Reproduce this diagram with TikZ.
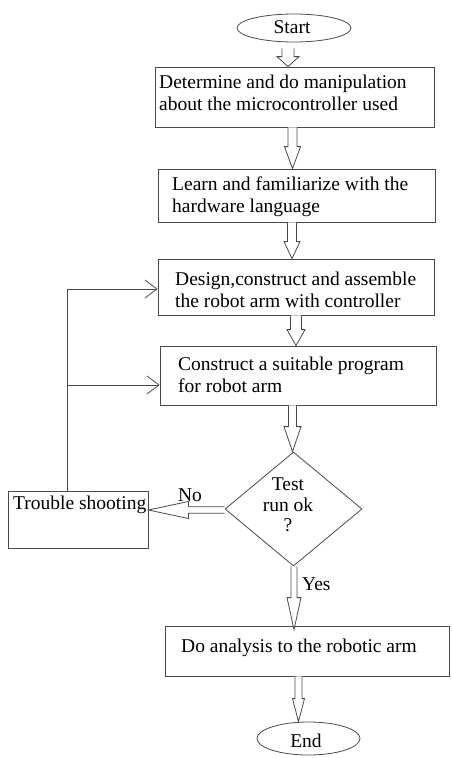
\documentclass[tikz,border=0pt]{standalone}
\usepackage{fontspec}
\setmainfont{Liberation Serif}
\usetikzlibrary{shapes.geometric,arrows.meta,calc}
\definecolor{ln}{HTML}{4A4A4A}
\newcommand{\blkdown}[5]{%
  \filldraw[blk] let \p1=(#1), \p2=(#2) in
   (\x1-#3pt,\y1) -- (\x1-#3pt,\y2+#5pt) -- (\x1-#4pt,\y2+#5pt) -- (\x1,\y2)
   -- (\x1+#4pt,\y2+#5pt) -- (\x1+#3pt,\y2+#5pt) -- (\x1+#3pt,\y1);}
\newcommand{\blkleft}[5]{%
  \filldraw[blk] let \p1=(#1), \p2=(#2) in
   (\x1,\y1+#3pt) -- (\x2+#5pt,\y1+#3pt) -- (\x2+#5pt,\y1+#4pt) -- (\x2,\y1)
   -- (\x2+#5pt,\y1-#4pt) -- (\x2+#5pt,\y1-#3pt) -- (\x1,\y1-#3pt);}
\begin{document}
\begin{tikzpicture}[x=1pt,y=-1pt,
  font=\fontsize{19.5}{22}\selectfont,
  boxn/.style={draw=ln,line width=0.8pt,rectangle,inner sep=0pt},
  ovaln/.style={draw=ln,line width=0.8pt,ellipse,inner sep=0pt},
  txt/.style={inner sep=0pt,align=left,anchor=west},
  blk/.style={draw=ln,fill=white,line width=0.8pt,line join=miter},
  fb/.style={draw=ln,line width=0.8pt,-{Straight Barb[length=12pt,width=18pt,line width=0.8pt]}}]
\useasboundingbox (0,0) rectangle (451,758);
% shapes
\node[ovaln,minimum width=114pt,minimum height=28pt] (st) at (294,28) {};
\node[inner sep=0pt] (stt) at (292,27) {Start};
\node[boxn,minimum width=279pt,minimum height=60pt] (b1) at (294.5,97) {};
\node[txt] (b1t) at (159,93) {Determine and do manipulation\\about the microcontroller used};
\node[boxn,minimum width=277pt,minimum height=53pt] (b2) at (296.5,195.5) {};
\node[txt] (b2t) at (172,196.5) {Learn and familiarize with the\\hardware language};
\node[boxn,minimum width=276pt,minimum height=56pt] (b3) at (296,287) {};
\node[txt] (b3t) at (175,289.5) {Design,construct and assemble\\the robot arm with controller};
\node[boxn,minimum width=276pt,minimum height=59pt] (b4) at (298,375.5) {};
\node[txt] (b4t) at (178,374.5) {Construct a suitable program\\for robot arm};
\node[draw=ln,line width=0.8pt,diamond,inner sep=0pt,minimum width=137pt,minimum height=114pt] (d) at (293.5,509) {};
\node[inner sep=0pt,align=center,font=\fontsize{19.5}{20.5}\selectfont] (dt) at (288,505) {Test\\run ok\\?};
\node[boxn,minimum width=140pt,minimum height=57pt] (tr) at (78,519.5) {};
\node[txt] (trt) at (13,505) {Trouble shooting};
\node[boxn,minimum width=284pt,minimum height=50pt] (b5) at (307,651) {};
\node[txt] (b5t) at (181,648) {Do analysis to the robotic arm};
\node[ovaln,minimum width=103pt,minimum height=33pt] (en) at (308.5,738.5) {};
\node[inner sep=0pt] (ent) at (306,741) {End};
\node[inner sep=0pt] (no) at (190,495) {No};
\node[txt] (yes) at (302,584) {Yes};
% block arrows
\blkdown{[xshift=-6pt,yshift=-6pt]st.south}{b1.north}{6}{11}{10}
\blkdown{[xshift=-2pt]b1.south}{b2.north}{4.5}{8}{22}
\blkdown{[xshift=-4.5pt]b2.south}{b3.north}{4.5}{8}{17}
\blkdown{b3.south}{b4.north}{5.5}{9}{16}
\blkdown{[xshift=-5.5pt]b4.south}{d.north}{4}{8.5}{25}
\blkleft{[yshift=-1pt]d.west}{tr.east}{3.2}{8.5}{40}
\blkdown{[xshift=0.5pt]d.south}{[yshift=-4pt]b5.north}{3}{7}{32}
\blkdown{[xshift=-8.5pt]b5.south}{en.north}{3.5}{6}{23}
% feedback
\coordinate (c1) at (67,289);
\coordinate (c2) at (67,385);
\draw[draw=ln,line width=0.8pt] (tr.north -| c1) -- (c1);
\draw[fb] (c1) -- (c1 -| b3.west);
\draw[fb] (c2) -- (c2 -| b4.west);
\end{tikzpicture}
\end{document}
